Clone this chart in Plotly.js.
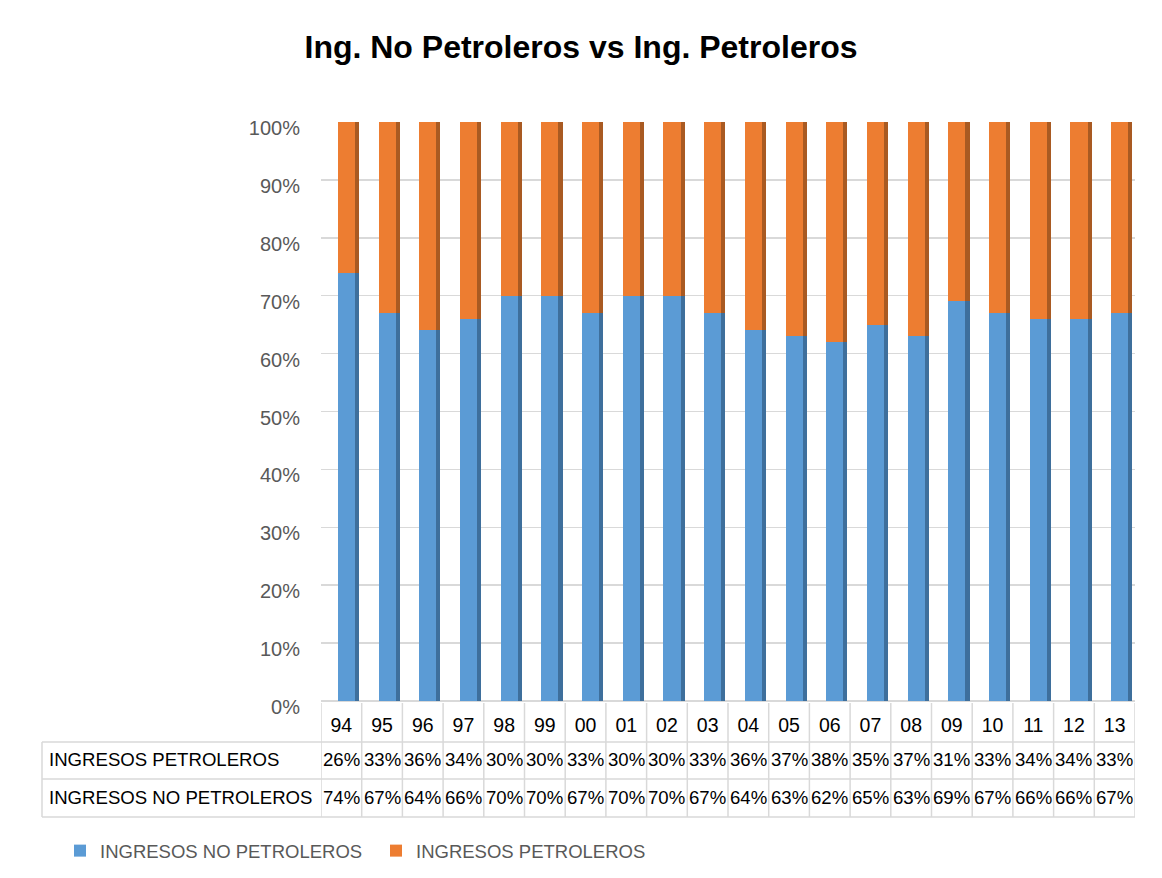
<!DOCTYPE html>
<html>
<head>
<meta charset="utf-8">
<script src="https://cdn.plot.ly/plotly-3.0.1.min.js"></script>
<style>
html,body{margin:0;padding:0;background:#fff;}
#chart{width:1162px;height:878px;}
</style>
</head>
<body>
<div id="chart"></div>
<script>
// ---- data ----
var years = ["94","95","96","97","98","99","00","01","02","03","04","05","06","07","08","09","10","11","12","13"];
var noPetroleros = [74,67,64,66,70,70,67,70,70,67,64,63,62,65,63,69,67,66,66,67];
var petroleros   = [26,33,36,34,30,30,33,30,30,33,36,37,38,35,37,31,33,34,34,33];
var nameNo = "INGRESOS NO PETROLEROS";
var namePe = "INGRESOS PETROLEROS";
var titleText = "Ing. No Petroleros vs Ing. Petroleros";

// ---- styling ----
var blue = "#5B9BD5", blueSide = "#3E6F9C";
var orange = "#ED7D31", orangeSide = "#A95A22";
var gray = "#595959", lineGray = "#D9D9D9";
var FONT = "Liberation Sans, Arial, sans-serif";

var noFrac = noPetroleros.map(function(v){return v/100;});
var peFrac = petroleros.map(function(v){return v/100;});

var frontW = 0.42, frontOff = -0.086, sideW = 0.1, sideOff = 0.334;

var traces = [
  {type:"bar", name:nameNo, x:years, y:noFrac, base:years.map(function(){return 0;}),
   width:frontW, offset:frontOff, marker:{color:blue, line:{width:0}}, hoverinfo:"skip"},
  {type:"bar", name:namePe, x:years, y:peFrac, base:noFrac,
   width:frontW, offset:frontOff, marker:{color:orange, line:{width:0}}, hoverinfo:"skip"},
  {type:"bar", name:nameNo+" side", showlegend:false, x:years, y:noFrac, base:years.map(function(){return 0;}),
   width:sideW, offset:sideOff, marker:{color:blueSide, line:{width:0}}, hoverinfo:"skip"},
  {type:"bar", name:namePe+" side", showlegend:false, x:years, y:peFrac, base:noFrac,
   width:sideW, offset:sideOff, marker:{color:orangeSide, line:{width:0}}, hoverinfo:"skip"}
];

// pixel geometry relative to the plot bottom (y=0 of paper)
var rowLines = [-41, -78, -116];     // horizontal table lines (px below axis)
var tableTop = -2;                   // top of category column lines
var labelLeftPx = -279;              // left edge of table (px from plot left)

var shapes = [];
rowLines.forEach(function(py){
  shapes.push({type:"line", xref:"paper", yref:"paper", xsizemode:"pixel", ysizemode:"pixel",
    xanchor:0, yanchor:0, x0:labelLeftPx, x1:814, y0:py, y1:py, line:{color:lineGray, width:1.5}});
});
shapes.push({type:"line", xref:"paper", yref:"paper", xsizemode:"pixel", ysizemode:"pixel",
  xanchor:0, yanchor:0, x0:labelLeftPx, x1:labelLeftPx, y0:rowLines[0], y1:rowLines[2], line:{color:lineGray, width:1.5}});
for (var i = 0; i <= years.length; i++) {
  shapes.push({type:"line", xref:"x", yref:"paper", ysizemode:"pixel", yanchor:0,
    x0:i-0.5, x1:i-0.5, y0:tableTop, y1:rowLines[2], line:{color:lineGray, width:1.5}});
}

var annotations = [];
var rowDefs = [{label:namePe, vals:petroleros, py:-58}, {label:nameNo, vals:noPetroleros, py:-96}];
rowDefs.forEach(function(r){
  annotations.push({xref:"paper", yref:"paper", x:0, y:0, xanchor:"left", yanchor:"middle",
    xshift:labelLeftPx+5, yshift:r.py, text:r.label, showarrow:false,
    font:{family:FONT, size:18.6, color:"#000"}});
  r.vals.forEach(function(v, j){
    annotations.push({xref:"x", yref:"paper", x:j, y:0, xanchor:"center", yanchor:"middle",
      yshift:r.py, text:v+"%", showarrow:false, font:{family:FONT, size:18.6, color:"#000"}});
  });
});

var layout = {
  width:1162, height:878,
  paper_bgcolor:"#fff", plot_bgcolor:"#fff",
  margin:{l:321, r:27, t:122, b:177, pad:0},
  title:{text:titleText, x:0.5, xanchor:"center", y:0.947, yanchor:"middle",
         font:{family:FONT, size:32, color:"#000", weight:"bold"}},
  barmode:"overlay",
  bargap:0,
  xaxis:{type:"category", range:[-0.5, years.length-0.5], showgrid:false, zeroline:false,
         showline:false, ticks:"", tickfont:{family:FONT, size:19.5, color:"#000"},
         ticklabelstandoff:10, fixedrange:true},
  yaxis:{range:[0,1], tickformat:".0%", dtick:0.1, tick0:0, showgrid:true, gridcolor:lineGray,
         gridwidth:1.5, zeroline:true, zerolinecolor:lineGray, zerolinewidth:1.5, showline:false,
         ticks:"", tickfont:{family:FONT, size:20, color:gray}, ticklabelstandoff:20,
         ticklabelshift:6, fixedrange:true},
  showlegend:true,
  legend:{orientation:"h", x:60/1162, xref:"container", xanchor:"left", y:0.009, yref:"container", yanchor:"bottom",
          entrywidth:271, entrywidthmode:"pixels", traceorder:"normal",
          font:{family:FONT, size:18.5, color:gray}, bgcolor:"rgba(0,0,0,0)"},
  shapes:shapes,
  annotations:annotations
};

Plotly.newPlot("chart", traces, layout, {displayModeBar:false, staticPlot:true});
</script>
</body>
</html>
